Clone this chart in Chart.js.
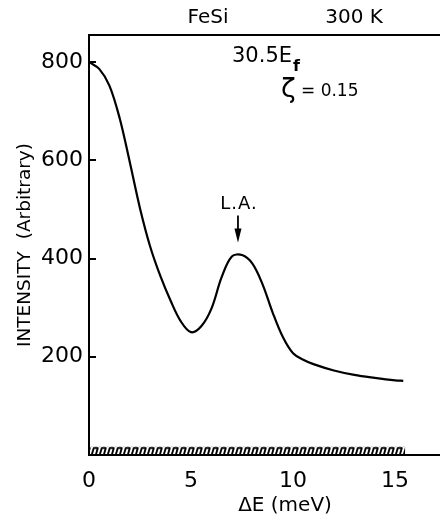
<!DOCTYPE html>
<html>
<head>
<meta charset="utf-8">
<script src="https://cdn.jsdelivr.net/npm/chart.js@4.4.1/dist/chart.umd.min.js"></script>
<style>
  html, body { margin: 0; padding: 0; background: #fff; }
  #wrap { width: 440px; height: 520px; position: relative; }
</style>
</head>
<body>
<div id="wrap"><canvas id="c" width="440" height="520"></canvas></div>
<script>
// ---- data ----
const energy = [0, 0.5, 1.0, 1.5, 2.0, 2.5, 3.0, 3.5, 4.0, 4.5, 5.0, 5.5, 6.0, 6.5, 7.0, 7.5, 8.0, 8.5, 9.0, 9.5, 10.0, 10.5, 11.0, 12.0, 13.0, 14.0, 15.0, 15.4];
const intensity = [800, 786, 752, 686, 596, 502, 424, 364, 314, 272, 250, 262, 298, 362, 404, 407, 390, 348, 290, 240, 207, 194, 185, 172, 163, 157, 152, 151];
const baselineE = [0, 15.5];
const baselineI = [17, 17];
const xTicks = [0, 5, 10, 15];
const yTicks = [200, 400, 600, 800];
const xRange = [0, 17.2];
const yRange = [0, 855];
const peakLabel = { text: 'L.A.', e: 7.3, i: 408 };
const topTitles = ['FeSi', '300 K'];
const xTitle = 'ΔE (meV)';
const yTitle = 'INTENSITY  (Arbitrary)';

const FONT = '"DejaVu Sans", "Liberation Sans", sans-serif';

const hatch = (function () {
  const p = document.createElement('canvas');
  p.width = 8; p.height = 9;
  const g = p.getContext('2d');
  g.strokeStyle = '#000';
  g.lineWidth = 1.9;
  g.lineJoin = 'round';
  g.beginPath();
  g.moveTo(0.5, 9); g.lineTo(2.8, 1.2); g.lineTo(6.8, 1.2); g.lineTo(4.6, 9);
  g.stroke();
  return g.createPattern(p, 'repeat');
})();

const annot = {
  id: 'annot',
  beforeDatasetsDraw(chart) {
    const top = chart.scales.y.getPixelForValue(baselineI[0]);
    const left = chart.scales.x.getPixelForValue(0);
    if (hatch.setTransform) hatch.setTransform(new DOMMatrix().translate(left + 2, top));
  },
  afterDraw(chart) {
    const { ctx, scales } = chart;
    const x = scales.x, y = scales.y;
    ctx.save();
    ctx.fillStyle = '#000';
    ctx.strokeStyle = '#000';
    // inward y ticks
    ctx.lineWidth = 2;
    yTicks.forEach(v => {
      const py = Math.round(y.getPixelForValue(v));
      ctx.beginPath();
      ctx.moveTo(x.left, py); ctx.lineTo(x.left + 7, py); ctx.stroke();
    });
    // top titles
    ctx.textAlign = 'center';
    ctx.textBaseline = 'middle';
    ctx.font = '20px ' + FONT;
    ctx.fillText(topTitles[0], 208, 18);
    ctx.fillText(topTitles[1], 354, 18);
    // 30.5 E_f
    ctx.textAlign = 'left';
    ctx.font = '21px ' + FONT;
    ctx.fillText('30.5E', 232, 57);
    const w = ctx.measureText('30.5E').width;
    ctx.font = 'bold 16px ' + FONT;
    ctx.fillText('f', 232 + w + 1, 67);
    // zeta
    ctx.font = '27px ' + FONT;
    ctx.fillText('ζ', 281, 90);
    ctx.font = '17px ' + FONT;
    ctx.fillText('= 0.15', 301, 92);
    // x-axis title
    ctx.textAlign = 'center';
    ctx.font = '20px ' + FONT;
    ctx.fillText(xTitle, 285, 506);
    // peak label and arrow
    const px = x.getPixelForValue(peakLabel.e);
    const py = y.getPixelForValue(peakLabel.i);
    ctx.font = '18px ' + FONT;
    ctx.letterSpacing = '1px';
    ctx.fillText(peakLabel.text, px + 1, py - 50);
    ctx.letterSpacing = '0px';
    ctx.lineWidth = 1.8;
    ctx.beginPath();
    ctx.moveTo(px, py - 39); ctx.lineTo(px, py - 16); ctx.stroke();
    ctx.beginPath();
    ctx.moveTo(px - 3.5, py - 26); ctx.lineTo(px + 3.5, py - 26); ctx.lineTo(px, py - 12); ctx.closePath(); ctx.fill();
    ctx.restore();
  }
};

new Chart(document.getElementById('c'), {
  type: 'line',
  data: {
    datasets: [
      {
        data: energy.map((e, i) => ({ x: e, y: intensity[i] })),
        borderColor: '#000',
        borderWidth: 2.2,
        pointRadius: 0,
        fill: false,
        tension: 0.35
      },
      {
        data: baselineE.map((e, i) => ({ x: e, y: baselineI[i] })),
        borderWidth: 0,
        pointRadius: 0,
        fill: 'origin',
        backgroundColor: hatch
      }
    ]
  },
  options: {
    responsive: false,
    animation: false,
    layout: { padding: 0 },
    plugins: { legend: { display: false }, tooltip: { enabled: false } },
    scales: {
      x: {
        type: 'linear',
        min: xRange[0], max: xRange[1],
        afterBuildTicks: s => { s.ticks = xTicks.map(v => ({ value: v })); },
        afterFit: s => { s.height = 65; },
        grid: { display: false, drawTicks: false },
        border: { display: true, color: '#000', width: 2 },
        ticks: { color: '#000', font: { family: FONT, size: 22 }, padding: 13, maxRotation: 0 }
      },
      x2: {
        type: 'linear',
        position: 'top',
        min: xRange[0], max: xRange[1],
        afterFit: s => { s.height = 35; },
        grid: { display: false, drawTicks: false },
        border: { display: true, color: '#000', width: 2 },
        ticks: { display: false }
      },
      y: {
        min: yRange[0], max: yRange[1],
        afterBuildTicks: s => { s.ticks = yTicks.map(v => ({ value: v })); },
        afterFit: s => { s.width = 89; },
        grid: { display: false, drawTicks: false },
        border: { display: true, color: '#000', width: 2 },
        ticks: { color: '#000', font: { family: FONT, size: 22 }, padding: 6 },
        title: { display: true, text: yTitle, color: '#000', font: { family: FONT, size: 18.5 }, padding: { top: 14, bottom: 14 } }
      }
    }
  },
  plugins: [annot]
});
</script>
</body>
</html>
